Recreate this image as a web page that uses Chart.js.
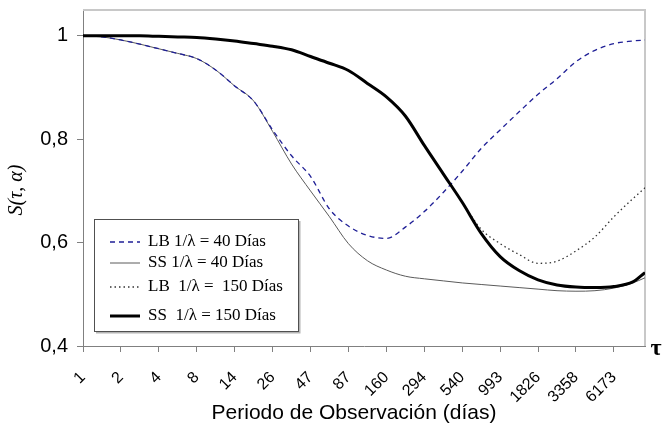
<!DOCTYPE html>
<html>
<head>
<meta charset="utf-8">
<title>S(τ, α) - Periodo de Observación</title>
<script src="https://cdn.jsdelivr.net/npm/chart.js@4.4.1/dist/chart.umd.min.js"></script>
<style>
    html, body { margin: 0; padding: 0; background: #fff; }
    #wrap { width: 662px; height: 425px; position: relative; }
</style>
</head>
<body>
<div id="wrap"><canvas id="survivalChart"></canvas></div>
<script>
// x tick labels (days), one per tick
const tickLabels = ['1', '2', '4', '8', '14', '26', '47', '87', '160', '294', '540', '993', '1826', '3358', '6173'];

// sample positions along the x axis, in tick units (0 = "1", 14 = "6173")
const xPos = [0, 0.5, 1, 1.5, 2, 2.5, 3, 3.5, 4, 4.5, 5, 5.5, 6, 6.5, 7, 7.5,
              8, 8.5, 9, 9.5, 10, 10.5, 11, 11.5, 12, 12.5, 13, 13.5, 14, 14.5, 14.82];

// series values
const lb40 = [1.000, 0.998, 0.992, 0.984, 0.975, 0.966, 0.956, 0.934, 0.903, 0.874, 0.818, 0.768,
              0.728, 0.665, 0.632, 0.614, 0.608, 0.630, 0.660, 0.697, 0.738, 0.782, 0.818, 0.853,
              0.887, 0.917, 0.950, 0.972, 0.985, 0.990, 0.992];
const ss40 = [1.000, 0.998, 0.992, 0.984, 0.975, 0.966, 0.956, 0.934, 0.903, 0.874, 0.815, 0.752,
              0.700, 0.650, 0.598, 0.565, 0.547, 0.535, 0.530, 0.526, 0.522, 0.519, 0.516, 0.513,
              0.510, 0.507, 0.506, 0.507, 0.512, 0.522, 0.532];
const lb150 = [1.000, 1.000, 1.000, 1.000, 0.999, 0.998, 0.997, 0.994, 0.990, 0.985, 0.980, 0.973,
               0.960, 0.947, 0.933, 0.908, 0.882, 0.845, 0.788, 0.733, 0.678, 0.626, 0.598, 0.577,
               0.560, 0.564, 0.584, 0.611, 0.650, 0.685, 0.706];
const ss150 = [1.000, 1.000, 1.000, 1.000, 0.999, 0.998, 0.997, 0.994, 0.990, 0.985, 0.980, 0.973,
               0.960, 0.947, 0.933, 0.908, 0.882, 0.845, 0.788, 0.733, 0.678, 0.618, 0.573, 0.546,
               0.528, 0.518, 0.514, 0.513, 0.515, 0.524, 0.542];

// y ticks
const yTicks = [0.4, 0.6, 0.8, 1];
const yTickLabels = ['0,4', '0,6', '0,8', '1'];

const seriesNames = ['LB 1/λ = 40 Días', 'SS 1/λ = 40 Días', 'LB  1/λ =  150 Días', 'SS  1/λ = 150 Días'];
const xTitle = 'Periodo de Observación (días)';
const yTitle = 'S(τ, α)';

const sansFont = '"Liberation Sans", Arial, sans-serif';
const serifFont = '"Liberation Serif", "Times New Roman", serif';

function toPoints(values) {
    return values.map((v, i) => ({ x: xPos[i], y: v }));
}

/**
 * Light frame on top and right of the plot area
 */
const framePlugin = {
    id: 'frame',
    beforeDatasetsDraw(chart) {
        const { ctx, chartArea: a } = chart;
        ctx.save();
        ctx.strokeStyle = '#c8c8c8';
        ctx.lineWidth = 2;
        ctx.beginPath();
        ctx.moveTo(a.left, a.top);
        ctx.lineTo(a.right, a.top);
        ctx.lineTo(a.right, a.bottom);
        ctx.stroke();
        ctx.restore();
    }
};

/**
 * Boxed legend inside the plot, lower left
 */
const boxLegend = {
    id: 'boxLegend',
    afterDatasetsDraw(chart) {
        const ctx = chart.ctx;
        const x = 94, y = 219, w = 204, h = 112;
        const rows = [23, 44, 68, 97];
        ctx.save();
        ctx.fillStyle = '#fff';
        ctx.fillRect(x, y, w, h);
        // soft shadow
        ctx.strokeStyle = '#b4b4b4';
        ctx.lineWidth = 2;
        ctx.beginPath();
        ctx.moveTo(x + 2, y + h + 1.5);
        ctx.lineTo(x + w + 1.5, y + h + 1.5);
        ctx.lineTo(x + w + 1.5, y + 2);
        ctx.stroke();
        ctx.strokeStyle = '#505050';
        ctx.lineWidth = 1;
        ctx.strokeRect(x + 0.5, y + 0.5, w, h);

        ctx.font = '17px ' + serifFont;
        ctx.textBaseline = 'middle';
        chart.data.datasets.forEach((ds, i) => {
            const ly = y + rows[i];
            ctx.strokeStyle = ds.borderColor;
            ctx.lineWidth = ds.borderWidth;
            ctx.setLineDash(ds.borderDash || []);
            ctx.beginPath();
            ctx.moveTo(x + 16, ly);
            ctx.lineTo(x + 46, ly);
            ctx.stroke();
            ctx.setLineDash([]);
            ctx.fillStyle = '#000';
            ctx.fillText(ds.label, x + 54, ly);
        });
        ctx.restore();
    }
};

/**
 * Axis titles and the tau mark at the end of the x axis
 */
const axisText = {
    id: 'axisText',
    afterDraw(chart) {
        const { ctx, chartArea: a } = chart;
        ctx.save();
        ctx.fillStyle = '#000';
        ctx.textAlign = 'center';
        ctx.textBaseline = 'middle';

        ctx.save();
        ctx.translate(17, 190);
        ctx.rotate(-Math.PI / 2);
        ctx.font = 'italic 20px ' + serifFont;
        ctx.fillText(yTitle, 0, 0);
        ctx.restore();

        ctx.font = '21px ' + sansFont;
        ctx.fillText(xTitle, 354, 413);

        ctx.font = 'bold 24px ' + serifFont;
        ctx.fillText('τ', a.right + 11, a.bottom + 3);
        ctx.restore();
    }
};

new Chart(document.getElementById('survivalChart'), {
    type: 'line',
    data: {
        datasets: [
            {
                label: seriesNames[0],
                data: toPoints(lb40),
                borderColor: '#1f1f96',
                borderWidth: 1.3,
                borderDash: [5, 4],
                order: 1
            },
            {
                label: seriesNames[1],
                data: toPoints(ss40),
                borderColor: '#5a5a5a',
                borderWidth: 1,
                order: 2
            },
            {
                label: seriesNames[2],
                data: toPoints(lb150),
                borderColor: '#333333',
                borderWidth: 1.3,
                borderDash: [1.5, 3],
                order: 3
            },
            {
                label: seriesNames[3],
                data: toPoints(ss150),
                borderColor: '#000000',
                borderWidth: 3,
                order: 0
            }
        ]
    },
    options: {
        responsive: true,
        maintainAspectRatio: false,
        animation: false,
        layout: {
            padding: { top: 10, right: 17, left: 0, bottom: 0 }
        },
        elements: {
            point: { radius: 0 },
            line: { cubicInterpolationMode: 'monotone', fill: false }
        },
        plugins: {
            legend: { display: false },
            tooltip: { enabled: false }
        },
        scales: {
            x: {
                type: 'linear',
                min: 0,
                max: 14.82,
                afterBuildTicks: scale => {
                    scale.ticks = tickLabels.map((_, i) => ({ value: i }));
                },
                afterFit: scale => {
                    scale.height = 79;
                    scale.paddingLeft = 0;
                    scale.paddingRight = 0;
                },
                ticks: {
                    autoSkip: false,
                    minRotation: 45,
                    maxRotation: 45,
                    padding: 16,
                    color: '#000',
                    font: { family: sansFont, size: 16 },
                    callback: value => tickLabels[value]
                },
                grid: {
                    drawOnChartArea: false,
                    drawTicks: true,
                    tickLength: 6,
                    color: '#808080'
                },
                border: { color: '#808080', width: 1 }
            },
            y: {
                min: 0.4,
                max: 1.05,
                afterBuildTicks: scale => {
                    scale.ticks = yTicks.map(v => ({ value: v }));
                },
                afterFit: scale => {
                    scale.width = 83;
                    scale.paddingTop = 0;
                    scale.paddingBottom = 0;
                },
                ticks: {
                    padding: 9,
                    color: '#000',
                    font: { family: sansFont, size: 20 },
                    callback: (value, index) => yTickLabels[index]
                },
                grid: {
                    drawOnChartArea: false,
                    drawTicks: true,
                    tickLength: 6,
                    color: '#808080'
                },
                border: { color: '#808080', width: 1 }
            }
        }
    },
    plugins: [framePlugin, boxLegend, axisText]
});
</script>
</body>
</html>
